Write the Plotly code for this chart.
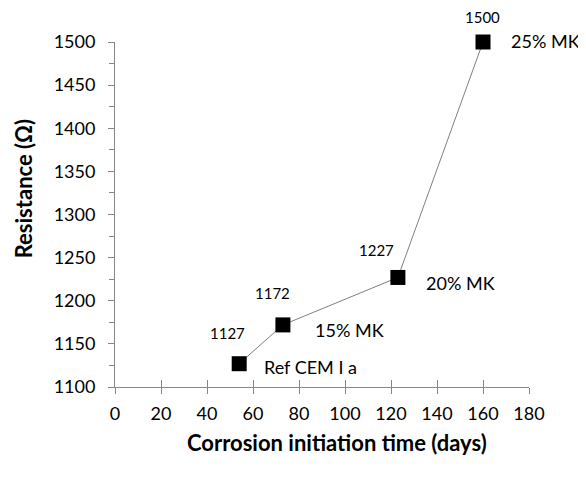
import plotly.graph_objects as go

# Data
days = [54, 73, 123, 160]
resistance = [1127, 1172, 1227, 1500]
mix_labels = ["Ref CEM I a", "15% MK", "20% MK", "25% MK"]
x_ticks = [0, 20, 40, 60, 80, 100, 120, 140, 160, 180]
y_ticks = [1100, 1150, 1200, 1250, 1300, 1350, 1400, 1450, 1500]

# label offsets (pixels) for value labels and mix labels
value_offsets = [(-12, 31), (-10, 32), (-21, 27), (-1, 25)]
mix_offsets = [(23, -3), (30, -5), (26, -6), (26, 1)]

FONT = "Lato"
AXIS_COLOR = "#868686"

fig = go.Figure()
fig.add_trace(go.Scatter(
    x=days, y=resistance, mode="lines+markers",
    line=dict(color="#7f7f7f", width=1),
    marker=dict(symbol="square", size=15, color="black"),
    cliponaxis=False, showlegend=False, hoverinfo="x+y",
))
# invisible trace for overlay axis (inside ticks -> cross ticks)
fig.add_trace(go.Scatter(x=[x_ticks[0]], y=[y_ticks[0]], xaxis="x2", mode="markers",
                         marker=dict(opacity=0), showlegend=False, hoverinfo="skip"))

annotations = []
for xv, yv, (dx, dy) in zip(days, resistance, value_offsets):
    annotations.append(dict(x=xv, y=yv, xref="x", yref="y", text=str(yv), showarrow=False,
                            xshift=dx, yshift=dy, font=dict(family=FONT, size=15, color="black")))
for xv, yv, lab, (dx, dy) in zip(days, resistance, mix_labels, mix_offsets):
    annotations.append(dict(x=xv, y=yv, xref="x", yref="y", text=lab, showarrow=False,
                            xanchor="left", xshift=dx, yshift=dy,
                            font=dict(family=FONT, size=18, color="black")))

annotations.append(dict(x=-0.219, y=0.574, xref="paper", yref="paper",
                        xanchor="center", yanchor="middle",
                        text="<b>Resistance (Ω)</b>", textangle=-90, showarrow=False,
                        font=dict(family=FONT, size=22, color="black")))
annotations.append(dict(x=0.536, y=-0.162, xref="paper", yref="paper",
                        xanchor="center", yanchor="middle",
                        text="<b>Corrosion initiation time (days)</b>", showarrow=False,
                        font=dict(family=FONT, size=22, color="black")))

fig.update_layout(
    width=578, height=469,
    margin=dict(l=107, r=57, t=34, b=90),
    plot_bgcolor="white", paper_bgcolor="white",
    font=dict(family=FONT, size=18, color="black"),
    xaxis=dict(range=[0, 180], tickvals=x_ticks, showgrid=False, zeroline=False,
               showline=True, linecolor=AXIS_COLOR, linewidth=1,
               ticks="outside", ticklen=6, tickcolor=AXIS_COLOR, tickwidth=1,
               ticklabelstandoff=4, tickfont=dict(family=FONT, size=18)),
    xaxis2=dict(range=[0, 180], tickvals=x_ticks, overlaying="x", anchor="y", side="bottom",
                showgrid=False, zeroline=False, showline=False, showticklabels=False,
                ticks="inside", ticklen=7, tickcolor=AXIS_COLOR, tickwidth=1),
    yaxis=dict(range=[1100, 1500], tickvals=y_ticks, showgrid=False, zeroline=False,
               showline=True, linecolor=AXIS_COLOR, linewidth=1,
               ticks="outside", ticklen=6, tickcolor=AXIS_COLOR, tickwidth=1,
               ticklabelstandoff=9, tickfont=dict(family=FONT, size=18),
               minor=dict(dtick=25, ticks="outside", ticklen=5, tickcolor=AXIS_COLOR, tickwidth=1)),
    annotations=annotations,
)

fig.write_html("out.html")
